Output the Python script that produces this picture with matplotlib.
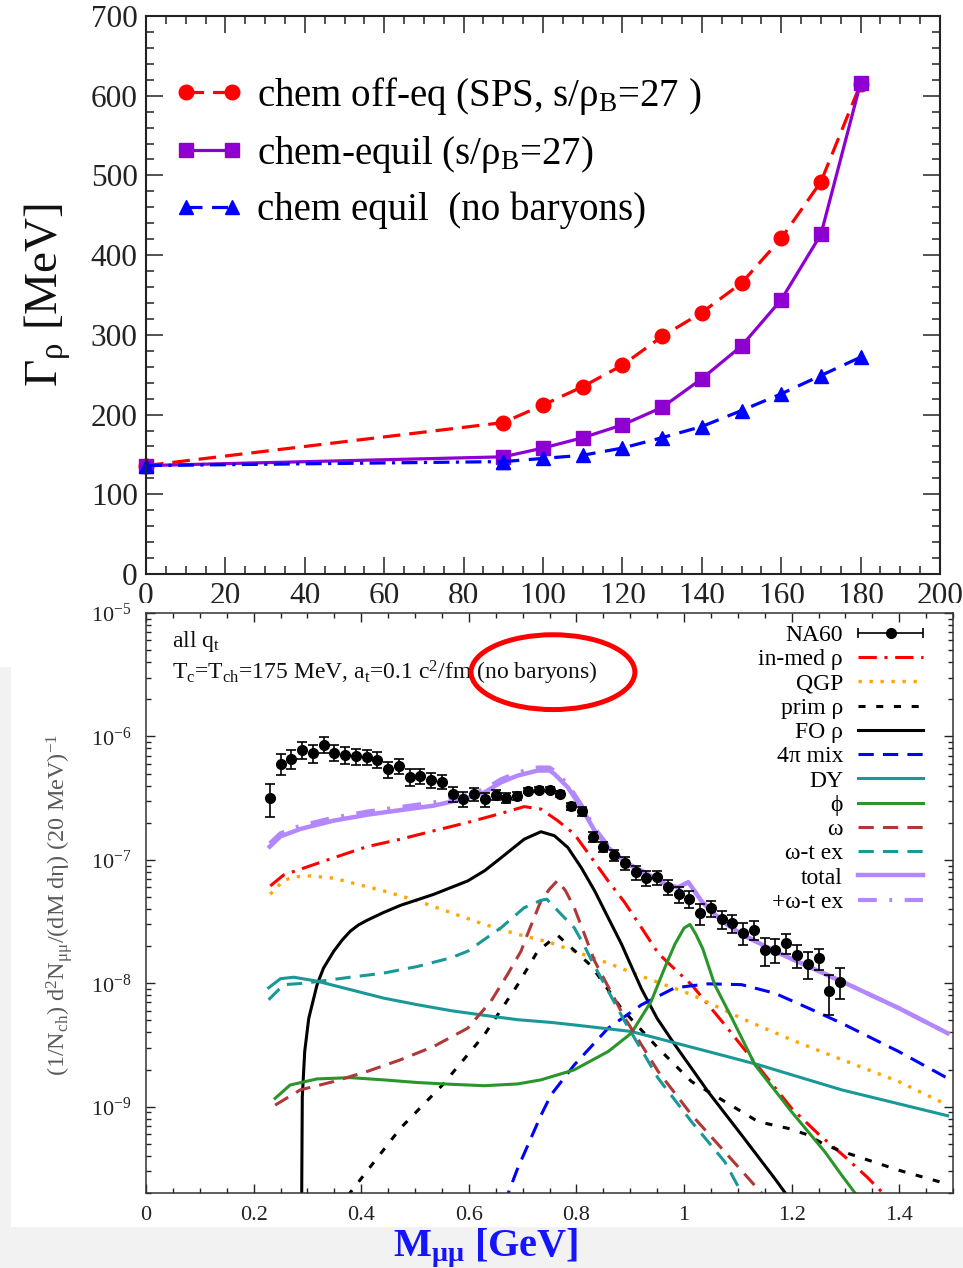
import numpy as np
import matplotlib
matplotlib.use("Agg")
import matplotlib.pyplot as plt
from matplotlib.patches import Rectangle, Ellipse
from matplotlib.lines import Line2D
from matplotlib.container import ErrorbarContainer
from matplotlib.legend_handler import HandlerErrorbar, HandlerLine2D
from matplotlib.transforms import Bbox, TransformedBbox
from matplotlib.ticker import MultipleLocator, LogLocator, NullFormatter, FixedLocator, FixedFormatter

plt.rcParams['font.family'] = ['Liberation Serif', 'DejaVu Serif']
plt.rcParams['mathtext.fontset'] = 'custom'
plt.rcParams['mathtext.rm'] = 'Liberation Serif'
plt.rcParams['mathtext.it'] = 'Liberation Serif:italic'
plt.rcParams['mathtext.bf'] = 'Liberation Serif:bold'
plt.rcParams['mathtext.default'] = 'rm'

# ---------------- rho width vs temperature ----------------
temps = [0, 90, 100, 110, 120, 130, 140, 150, 160, 170, 180]
gamma_offeq = [136, 190, 212, 235, 262, 298, 328, 365, 421, 492, 615]
gamma_equil = [136, 147, 158, 171, 187, 209, 245, 286, 344, 426, 616]
gamma_nobar = [136, 141, 145, 149, 158, 171, 185, 205, 226, 249, 272]
top_labels = ["chem off-eq (SPS, s/ρ$_\\mathrm{B}$=27 )",
              "chem-equil (s/ρ$_\\mathrm{B}$=27)",
              "chem equil  (no baryons)"]

# ---------------- NA60 dimuon spectrum ----------------
na60_m = [0.23, 0.25, 0.27, 0.29, 0.31, 0.33, 0.35, 0.37, 0.39, 0.41, 0.43, 0.45,
          0.47, 0.49, 0.51, 0.53, 0.55, 0.57, 0.59, 0.61, 0.63, 0.65, 0.67, 0.69,
          0.71, 0.73, 0.75, 0.77, 0.79, 0.81, 0.83, 0.85, 0.87, 0.89, 0.91, 0.93,
          0.95, 0.97, 0.99, 1.01, 1.03, 1.05, 1.07, 1.09, 1.11, 1.13, 1.15, 1.17,
          1.19, 1.21, 1.23, 1.25, 1.27, 1.29]
na60_v = [3.19e-7, 6.0e-7, 6.6e-7, 7.8e-7, 7.3e-7, 8.6e-7, 7.4e-7, 7.1e-7, 6.9e-7,
          6.8e-7, 6.5e-7, 5.4e-7, 5.8e-7, 4.7e-7, 4.8e-7, 4.47e-7, 4.3e-7, 3.4e-7,
          3.1e-7, 3.4e-7, 3.1e-7, 3.36e-7, 3.18e-7, 3.3e-7, 3.64e-7, 3.71e-7, 3.71e-7,
          3.42e-7, 2.71e-7, 2.47e-7, 1.54e-7, 1.28e-7, 1.09e-7, 9.4e-8, 7.9e-8, 7.1e-8,
          7.2e-8, 6.07e-8, 5.26e-8, 4.84e-8, 3.69e-8, 4.05e-8, 3.30e-8, 3.08e-8,
          2.55e-8, 2.72e-8, 1.85e-8, 1.87e-8, 2.11e-8, 1.69e-8, 1.44e-8, 1.59e-8,
          8.6e-9, 1.03e-8]
na60_relerr = [0.30, 0.19, 0.18, 0.16, 0.17, 0.14, 0.15, 0.15, 0.15, 0.14, 0.14, 0.15,
               0.14, 0.15, 0.14, 0.14, 0.13, 0.14, 0.14, 0.12, 0.13, 0.09, 0.09, 0.08,
               0.05, 0.05, 0.05, 0.06, 0.07, 0.08, 0.10, 0.10, 0.11, 0.12, 0.13, 0.14,
               0.13, 0.14, 0.15, 0.16, 0.19, 0.15, 0.17, 0.17, 0.20, 0.18, 0.25, 0.22,
               0.18, 0.22, 0.25, 0.20, 0.36, 0.28]

inmed_m = [0.231, 0.256, 0.287, 0.349, 0.411, 0.473, 0.535, 0.598, 0.66, 0.703, 0.734,
           0.765, 0.796, 0.828, 0.859, 0.89, 0.921, 0.952, 0.983, 1.014, 1.076, 1.138,
           1.2, 1.25, 1.3, 1.34, 1.38]
inmed_v = [6.15e-8, 7.55e-8, 8.4e-8, 1.04e-7, 1.28e-7, 1.47e-7, 1.72e-7, 2.01e-7, 2.38e-7,
           2.7e-7, 2.58e-7, 2.08e-7, 1.62e-7, 1.04e-7, 6.75e-8, 4.5e-8, 2.82e-8, 1.75e-8,
           1.3e-8, 9.75e-9, 4.6e-9, 2.11e-9, 9.7e-10, 6.0e-10, 3.9e-10, 2.7e-10, 1.8e-10]

qgp_m = [0.231, 0.256, 0.28, 0.306, 0.35, 0.38, 0.442, 0.505, 0.567, 0.629, 0.691, 0.747,
         0.796, 0.86, 0.921, 1.014, 1.107, 1.2, 1.287, 1.399, 1.49]
qgp_v = [5.26e-8, 6.84e-8, 7.3e-8, 7.41e-8, 7.1e-8, 6.55e-8, 5.6e-8, 4.65e-8, 3.73e-8,
         3.0e-8, 2.49e-8, 2.17e-8, 1.82e-8, 1.45e-8, 1.14e-8, 8.1e-9, 5.2e-9, 3.48e-9,
         2.47e-9, 1.6e-9, 1.03e-9]

prim_m = [0.375, 0.473, 0.551, 0.629, 0.691, 0.728, 0.765, 0.828, 0.883, 0.952, 1.014,
          1.076, 1.138, 1.194, 1.231, 1.262, 1.306, 1.399, 1.48]
prim_v = [1.9e-10, 6.7e-10, 1.5e-9, 3.83e-9, 9.75e-9, 1.82e-8, 2.45e-8, 1.38e-8, 6.3e-9,
          2.98e-9, 1.6e-9, 1.1e-9, 7.56e-10, 6.67e-10, 5.9e-10, 4.9e-10, 4.17e-10,
          3.06e-10, 2.43e-10]

fo_m = [0.289, 0.2905, 0.295, 0.3025, 0.318, 0.33, 0.349, 0.365, 0.38, 0.395, 0.411,
        0.44, 0.473, 0.535, 0.598, 0.63, 0.66, 0.703, 0.734, 0.759, 0.784, 0.809, 0.834,
        0.859, 0.884, 0.90, 0.921, 0.95, 0.983, 1.045, 1.107, 1.169, 1.2]
fo_v = [1.0e-10, 1.2e-9, 2.8e-9, 5.2e-9, 9.75e-9, 1.33e-8, 1.82e-8, 2.25e-8, 2.65e-8,
        2.97e-8, 3.24e-8, 3.72e-8, 4.28e-8, 5.26e-8, 6.75e-8, 8.2e-8, 1.04e-7, 1.47e-7,
        1.69e-7, 1.57e-7, 1.26e-7, 8.65e-8, 5.6e-8, 3.4e-8, 2.07e-8, 1.44e-8, 9.0e-9,
        5.2e-9, 3.18e-9, 1.32e-9, 5.9e-10, 2.61e-10, 1.7e-10]

mix_m = [0.665, 0.69, 0.71, 0.734, 0.753, 0.796, 0.859, 0.921, 0.983, 1.045, 1.107,
         1.169, 1.231, 1.293, 1.399, 1.49]
mix_v = [1.6e-10, 3.1e-10, 4.9e-10, 8.5e-10, 1.25e-9, 2.18e-9, 4.33e-9, 6.7e-9, 9.2e-9,
         9.9e-9, 9.75e-9, 8.3e-9, 6.3e-9, 4.75e-9, 2.8e-9, 1.7e-9]

dy_m = [0.228, 0.25, 0.275, 0.318, 0.38, 0.442, 0.505, 0.567, 0.629, 0.691, 0.753,
        0.796, 0.902, 1.045, 1.138, 1.293, 1.49]
dy_v = [9.2e-9, 1.09e-8, 1.12e-8, 1.04e-8, 8.88e-9, 7.58e-9, 6.7e-9, 6.0e-9, 5.5e-9,
        5.07e-9, 4.82e-9, 4.6e-9, 4.07e-9, 2.8e-9, 2.19e-9, 1.37e-9, 8.45e-10]

phi_m = [0.24, 0.268, 0.318, 0.38, 0.442, 0.505, 0.567, 0.629, 0.691, 0.734, 0.796,
         0.859, 0.902, 0.939, 0.964, 0.983, 1.0, 1.011, 1.022, 1.035, 1.057, 1.089,
         1.132, 1.2, 1.262, 1.293, 1.33]
phi_v = [1.17e-9, 1.5e-9, 1.68e-9, 1.72e-9, 1.65e-9, 1.57e-9, 1.52e-9, 1.48e-9, 1.53e-9,
         1.65e-9, 1.99e-9, 2.8e-9, 3.94e-9, 7.14e-9, 1.33e-8, 2.07e-8, 2.8e-8, 3.0e-8,
         2.5e-8, 1.9e-8, 9.75e-9, 5.22e-9, 2.18e-9, 9.1e-10, 4.3e-10, 2.79e-10, 1.7e-10]

omega_m = [0.24, 0.287, 0.349, 0.411, 0.473, 0.535, 0.598, 0.641, 0.672, 0.697, 0.709,
           0.734, 0.75, 0.765, 0.78, 0.796, 0.815, 0.834, 0.89, 0.952, 1.014, 1.076,
           1.144, 1.16]
omega_v = [1.03e-9, 1.37e-9, 1.6e-9, 1.93e-9, 2.4e-9, 3.08e-9, 4.33e-9, 7.14e-9, 1.18e-8,
           1.82e-8, 2.49e-8, 4.65e-8, 5.8e-8, 6.8e-8, 5.6e-8, 4.1e-8, 2.49e-8, 1.51e-8,
           5.22e-9, 1.93e-9, 8.6e-10, 4.3e-10, 2.0e-10, 1.6e-10]

omt_m = [0.228, 0.256, 0.293, 0.38, 0.442, 0.505, 0.567, 0.598, 0.66, 0.703, 0.734,
         0.745, 0.772, 0.796, 0.815, 0.831, 0.89, 0.952, 1.014, 1.076, 1.11, 1.12]
omt_v = [7.36e-9, 9.75e-9, 1.0e-8, 1.12e-8, 1.21e-8, 1.37e-8, 1.61e-8, 1.82e-8, 2.82e-8,
         4.1e-8, 4.7e-8, 4.8e-8, 3.61e-8, 2.82e-8, 2.0e-8, 1.45e-8, 4.9e-9, 1.7e-9,
         7.56e-10, 3.57e-10, 1.9e-10, 1.6e-10]

total_m = [0.23, 0.25, 0.287, 0.349, 0.411, 0.473, 0.535, 0.598, 0.629, 0.66, 0.691,
           0.728, 0.75, 0.759, 0.784, 0.809, 0.834, 0.859, 0.896, 0.933, 0.971, 0.99,
           1.008, 1.033, 1.07, 1.107, 1.169, 1.231, 1.306, 1.399, 1.49]
total_v = [1.28e-7, 1.55e-7, 1.78e-7, 2.08e-7, 2.32e-7, 2.53e-7, 2.75e-7, 3.18e-7,
           3.52e-7, 4.25e-7, 4.82e-7, 5.29e-7, 5.3e-7, 4.97e-7, 3.87e-7, 2.66e-7,
           1.72e-7, 1.26e-7, 9.2e-8, 7.65e-8, 6.15e-8, 6.0e-8, 6.6e-8, 4.6e-8, 3.2e-8,
           2.5e-8, 1.82e-8, 1.37e-8, 9.75e-9, 6.3e-9, 3.94e-9]

plus_m = total_m
plus_v = [1.36e-7, 1.64e-7, 1.89e-7, 2.2e-7, 2.46e-7, 2.68e-7, 2.92e-7, 3.37e-7,
          3.73e-7, 4.5e-7, 5.1e-7, 5.6e-7, 5.6e-7, 5.27e-7, 4.1e-7, 2.8e-7,
          1.8e-7, 1.3e-7, 9.3e-8, 7.7e-8, 6.15e-8, 6.0e-8, 6.6e-8, 4.6e-8, 3.2e-8,
          2.5e-8, 1.82e-8, 1.37e-8, 9.75e-9, 6.3e-9, 3.94e-9]

mass_ticks = [0, 0.2, 0.4, 0.6, 0.8, 1.0, 1.2, 1.4]
mass_ticklabels = ['0', '0.2', '0.4', '0.6', '0.8', '1', '1.2', '1.4']
yield_ticks = [1e-9, 1e-8, 1e-7, 1e-6, 1e-5]

SERIF = 'Liberation Serif'

# ---------------- figure layout (pixel based) ----------------
W, H = 963, 1268
fig = plt.figure(figsize=(W / 100, H / 100), dpi=100, facecolor='#f2f2f2')


def box(x0, y0, x1, y1):
    return [x0 / W, 1 - y1 / H, (x1 - x0) / W, (y1 - y0) / H]


fig.add_artist(Rectangle((0, 1 - 667 / H), 1, 667 / H, transform=fig.transFigure,
                         facecolor='white', edgecolor='none', zorder=0))
fig.add_artist(Rectangle((11 / W, 1 - 1227 / H), 1 - 11 / W, (1227 - 603) / H,
                         transform=fig.transFigure, facecolor='white',
                         edgecolor='none', zorder=1.5))

ax1 = fig.add_axes(box(146, 16, 940, 574), zorder=1)
ax2 = fig.add_axes(box(146, 613, 953, 1193), zorder=2)
ax2.patch.set_alpha(0)

# ---------------- top panel ----------------
red, violet, blue = '#ff0000', '#8e00d2', '#0000ff'
l_off, = ax1.plot(temps, gamma_offeq, color=red, lw=2.3, dashes=(5.5, 2.8),
                  marker='o', ms=10.5, clip_on=False, label=top_labels[0])
l_eq, = ax1.plot(temps, gamma_equil, color=violet, lw=2.3, marker='s', ms=9.5,
                 clip_on=False, label=top_labels[1])
ax1.plot(temps[:2], gamma_nobar[:2], color=blue, lw=2.3, dashes=(5, 2, 1, 2),
         marker='^', ms=10.5, clip_on=False)
l_nb, = ax1.plot(temps[1:], gamma_nobar[1:], color=blue, lw=2.3, dashes=(5, 3),
                 marker='^', ms=10.5, clip_on=False, label=top_labels[2])

ax1.set_xlim(0, 200)
ax1.set_ylim(0, 700)
ax1.xaxis.set_major_locator(MultipleLocator(20))
ax1.xaxis.set_minor_locator(MultipleLocator(5))
ax1.yaxis.set_major_locator(MultipleLocator(100))
ax1.yaxis.set_minor_locator(MultipleLocator(20))
ax1.tick_params(which='both', direction='in', top=True, right=True,
                labelsize=22.5, colors='#222222', width=1.1, labelfontfamily=SERIF)
ax1.tick_params(which='major', length=12)
ax1.tick_params(which='minor', length=6)
ax1.tick_params(axis='x', pad=6)
ax1.tick_params(axis='y', pad=6)
for s in ax1.spines.values():
    s.set_linewidth(1.5)
    s.set_color('#222222')

ax1.legend(handles=[l_off, l_eq, l_nb], loc='upper left', bbox_to_anchor=(0.04, 0.895),
           frameon=False, fontsize=28, numpoints=2, handlelength=1.6,
           handletextpad=0.45, labelspacing=0.44, borderpad=0, borderaxespad=0,
           handler_map={Line2D: HandlerLine2D(marker_pad=0.2)})

fig.text(48 / W, 1 - 295 / H, "Γ$_\\mathrm{ρ}$ [MeV]", rotation=90, ha='center',
         va='center', fontsize=34, color='#111111')

# ---------------- bottom panel ----------------
eb = ax2.errorbar(na60_m, na60_v, yerr=np.array(na60_relerr) * np.array(na60_v),
                  fmt='o', color='black', ms=7, capsize=3.5, elinewidth=1.2,
                  capthick=1.2, zorder=6)

lw = 2.2
h_inmed, = ax2.plot(inmed_m, inmed_v, color='#ff0000', lw=lw, dashes=(6, 2.5, 1, 2.5),
                    label='in-med ρ')
h_qgp, = ax2.plot(qgp_m, qgp_v, color='#ffa500', lw=2.4, dashes=(1, 2.3), label='QGP')
h_prim, = ax2.plot(prim_m, prim_v, color='black', lw=lw, dashes=(2.3, 3.5), label='prim ρ')
h_fo, = ax2.plot(fo_m, fo_v, color='black', lw=lw, label='FO ρ')
h_mix, = ax2.plot(mix_m, mix_v, color='#0000ff', lw=lw, dashes=(5, 3), label='4π mix')
h_dy, = ax2.plot(dy_m, dy_v, color='#1a9898', lw=lw, label='DY')
h_phi, = ax2.plot(phi_m, phi_v, color='#2a952a', lw=lw, label='ϕ')
h_om, = ax2.plot(omega_m, omega_v, color='#b03838', lw=lw, dashes=(5, 3), label='ω')
h_omt, = ax2.plot(omt_m, omt_v, color='#1a9898', lw=lw, dashes=(5, 3), label='ω-t ex')
h_tot, = ax2.plot(total_m, total_v, color='#b388ff', lw=3.2, label='total', zorder=3)
h_plus, = ax2.plot(plus_m, plus_v, color='#b388ff', lw=3.0, dashes=(4.5, 3, 0.7, 3),
                   label='+ω-t ex', zorder=3)

ax2.set_yscale('log')
ax2.set_xlim(0, 1.5)
ax2.set_ylim(2e-10, 1e-5)
ax2.xaxis.set_major_locator(FixedLocator(mass_ticks))
ax2.xaxis.set_major_formatter(FixedFormatter(mass_ticklabels))
ax2.xaxis.set_minor_locator(MultipleLocator(0.05))
ax2.set_yticks(yield_ticks)
ax2.yaxis.set_minor_locator(LogLocator(base=10, subs=np.arange(2, 10), numticks=20))
ax2.yaxis.set_minor_formatter(NullFormatter())
ax2.tick_params(which='both', direction='in', top=True, right=True,
                labelsize=16, colors='#222222', width=1.0, labelfontfamily=SERIF)
ax2.tick_params(which='major', length=6.5)
ax2.tick_params(which='minor', length=3.6)
ax2.tick_params(axis='x', pad=9.5)
ax2.tick_params(axis='y', pad=10.5)
for s in ax2.spines.values():
    s.set_linewidth(1.1)
    s.set_color('#333333')

# keep the bottom panel's tick labels inside its own frame area
clip = TransformedBbox(Bbox.from_extents(0, 0, 1, 1 - 603 / H), fig.transFigure)
for t in ax2.get_yticklabels():
    t.set_clip_box(clip)
    t.set_clip_on(True)

ax2.text(0.032, 0.941, "all q$_\\mathrm{t}$", transform=ax2.transAxes, fontsize=17,
         va='baseline', color='#111111')
ax2.text(0.032, 0.8845,
         "T$_\\mathrm{c}$=T$_\\mathrm{ch}$=175 MeV, a$_\\mathrm{t}$=0.1 c$^2$/fm (no baryons)",
         transform=ax2.transAxes, fontsize=17, va='baseline', color='#111111')
ax2.add_patch(Ellipse((0.5043, 0.898), 0.203, 0.129, transform=ax2.transAxes,
                      fill=False, edgecolor='#ff0000', lw=3.6, clip_on=False, zorder=7))

na60_handle = ErrorbarContainer(eb.lines, has_xerr=True, has_yerr=False, label='NA60')
leg_handles = [na60_handle, h_inmed, h_qgp, h_prim, h_fo, h_mix, h_dy, h_phi, h_om,
               h_omt, h_tot, h_plus]
hl = 2.75
ax2.legend(handles=leg_handles, loc='upper right', bbox_to_anchor=(0.963, 0.98),
           frameon=False, fontsize=17, markerfirst=False, numpoints=1,
           handlelength=hl, handletextpad=0.64, labelspacing=0.115, borderpad=0,
           borderaxespad=0,
           handler_map={ErrorbarContainer: HandlerErrorbar(xerr_size=hl / 2)})

fig.text(60 / W, 1 - 905 / H,
         "(1/N$_\\mathrm{ch}$) d$^2$N$_\\mathrm{μμ}$/(dM dη) (20 MeV)$^{-1}$",
         rotation=90, ha='center', va='center', fontsize=17.5, color='#5a5a5a')
fig.text(486 / W, 1 - 1248 / H, "M$_\\mathbf{μμ}$ [GeV]", ha='center', va='center',
         fontsize=29, fontweight='bold', color='#1414ff')

fig.savefig('out.png', dpi=100, facecolor=fig.get_facecolor())
